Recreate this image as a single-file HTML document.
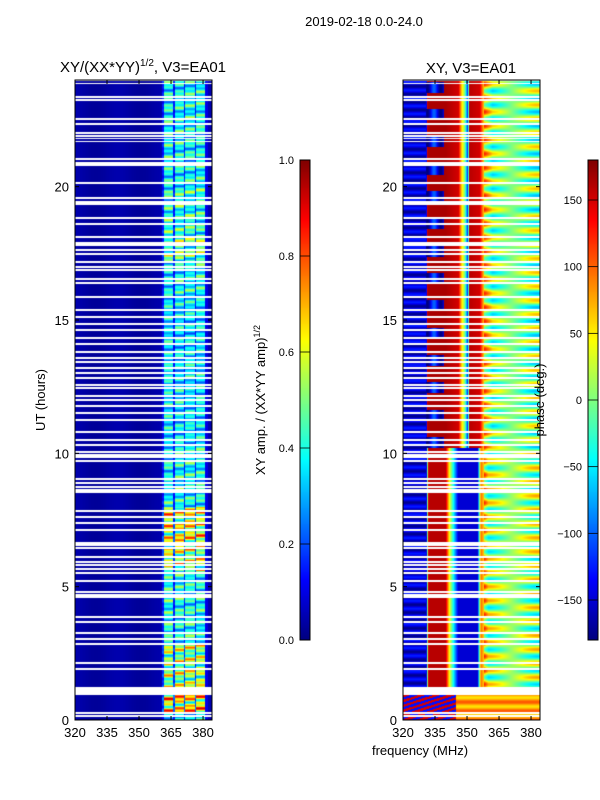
<!DOCTYPE html>
<html><head><meta charset="utf-8">
<style>
body{margin:0;background:#fff;width:600px;height:800px;overflow:hidden;font-family:"Liberation Sans","DejaVu Sans",sans-serif;}
#root{position:relative;width:600px;height:800px;}
svg text{font-family:"Liberation Sans","DejaVu Sans",sans-serif;}
canvas{position:absolute;}
</style></head>
<body>
<div id="root">
<canvas id="cL" width="137" height="640" style="left:75px;top:80px"></canvas>
<canvas id="cR" width="137" height="640" style="left:403px;top:80px"></canvas>
<canvas id="cb1" width="10" height="480" style="left:300px;top:160px"></canvas>
<canvas id="cb2" width="10" height="480" style="left:588px;top:160px"></canvas>
<svg id="ov" width="600" height="800" style="position:absolute;left:0;top:0"></svg>
</div>
<script>
// ---- data ----
const gapUT=[23.88,23.36,23.25,22.54,22.35,22.01,21.9,21.79,21.68,21.04,20.85,20.14,19.57,19.39,18.82,18.6,18.11,17.85,17.62,17.51,17.44,17.17,16.99,16.87,16.54,16.39,15.86,15.37,15.11,14.85,14.62,14.32,14.1,13.8,13.57,13.42,13.2,13.01,12.82,12.56,12.45,12.15,12.0,11.77,11.51,11.25,10.8,10.5,10.31,10.05,9.9,9.71,9.04,8.89,8.74,8.59,7.84,7.61,7.39,7.12,6.6,6.45,6.11,5.92,5.81,5.66,5.51,5.21,4.8,4.69,4.61,3.86,3.67,3.26,3.04,2.85,2.14,1.91,1.09,0.26,0.15];
const gapWidth=[0.05,0.05,0.05,0.05,0.05,0.05,0.04,0.04,0.04,0.05,0.16,0.05,0.05,0.16,0.05,0.05,0.05,0.16,0.05,0.04,0.04,0.05,0.05,0.05,0.05,0.05,0.05,0.05,0.08,0.05,0.05,0.05,0.05,0.05,0.05,0.05,0.05,0.05,0.05,0.05,0.05,0.05,0.05,0.05,0.05,0.05,0.05,0.05,0.05,0.05,0.14,0.05,0.05,0.05,0.05,0.15,0.05,0.05,0.05,0.05,0.18,0.05,0.05,0.05,0.05,0.05,0.05,0.08,0.05,0.05,0.05,0.05,0.05,0.05,0.05,0.05,0.05,0.05,0.27,0.05,0.05];
const ampBlockStart=[0,0.3,1.15,2.85,4.6,5.6,6.65,8.0,10.3,16.0,17.2,18.2,20.0];
const ampBlockLevel=[0.5,0.88,0.72,0.52,0.5,0.75,0.82,0.5,0.45,0.5,0.65,0.55,0.5];
const phaseUpFreq=[320,331,331.5,340,346,347.5,349,350.5,351,356,358,362,384];
const phaseUpVal=[-150,-150,165,165,150,60,0,-140,160,150,60,0,0];
const phaseLoFreq=[320,331,332,340,342,344,346,355,356.5,358,360,384];
const phaseLoVal=[-150,-150,160,160,30,-60,-150,-150,100,60,10,10];
const yTicks=[0,5,10,15,20];
const xTicks=[320,335,350,365,380];
const cb1Ticks=[0.0,0.2,0.4,0.6,0.8,1.0];
const cb2Ticks=[-150,-100,-50,0,50,100,150];
// ---- scales ----
const fMin=320,fMax=384.2,tMin=0,tMax=24,H=640,W=137;
const xs=f=>(f-fMin)/(fMax-fMin)*W;
const ys=t=>H-(t-tMin)/(tMax-tMin)*H;
const fx=px=>fMin+(px+0.5)/W*(fMax-fMin);
const ty=py=>tMax-(py+0.5)/H*(tMax-tMin);
function cl(v){return Math.max(0,Math.min(1,v));}
function jet(v){v=cl(v);return[cl(1.5-Math.abs(4*v-3))*255,cl(1.5-Math.abs(4*v-2))*255,cl(1.5-Math.abs(4*v-1))*255];}
function interp(xa,ya,x){for(let i=0;i<xa.length-1;i++){if(x<=xa[i+1]){const t=(x-xa[i])/(xa[i+1]-xa[i]);return ya[i]+t*(ya[i+1]-ya[i]);}}return ya[ya.length-1];}
function inGap(t){for(let i=0;i<gapUT.length;i++){if(Math.abs(t-gapUT[i])<=gapWidth[i]/2)return true;}return t>23.97;}
function ampLevel(t){let l=ampBlockLevel[0];for(let i=0;i<ampBlockStart.length;i++)if(t>=ampBlockStart[i])l=ampBlockLevel[i];return l;}
// ---- left panel ----
(function(){const c=document.getElementById('cL').getContext('2d');const im=c.createImageData(W,H);
for(let py=0;py<H;py++){const t=ty(py);const g=inGap(t);const lvl=ampLevel(t);
 for(let px=0;px<W;px++){const f=fx(px);let rgb;
  if(g){rgb=[255,255,255];}
  else{let v=0.035+0.01*Math.sin(f*0.3);
   if(f>=361&&f<=381){const sub=(f-361)%5;const si=Math.floor((f-361)/5);let fac=(sub<0.7)?0.25:1;
     const mod=0.65+0.35*Math.sin(py*0.8+si*1.7)*Math.cos(py*0.29+si);
     v=lvl*fac*mod+0.06;}
   else if(f>381&&f<382.5)v=0.1;
   rgb=jet(v);}
  const k=(py*W+px)*4;im.data[k]=rgb[0];im.data[k+1]=rgb[1];im.data[k+2]=rgb[2];im.data[k+3]=255;}}
c.putImageData(im,0,0);})();
// ---- right panel ----
(function(){const c=document.getElementById('cR').getContext('2d');const im=c.createImageData(W,H);
for(let py=0;py<H;py++){const t=ty(py);const g=inGap(t);
 for(let px=0;px<W;px++){const f=fx(px);let rgb;
  if(g){rgb=[255,255,255];}
  else{let p;
   if(t<1.1){p=f<345?(Math.sin(py*1.3+f*0.9)>0?150:-130):80+25*Math.sin(py*0.7);}
   else if(t<10.2)p=interp(phaseLoFreq,phaseLoVal,f);
   else{p=interp(phaseUpFreq,phaseUpVal,f);
     if(f>331&&f<339&&Math.sin(py*0.23)>0.3)p=-140+40*Math.sin(f);}
   if(f>358&&t>=1.1)p+=70*Math.sin(py*0.45)*Math.cos((f-358)*0.12);
   if(f<331&&t>=1.1)p+=25*Math.sin(py*0.8);
   let v=(p+180)/360;rgb=jet(v);}
  const k=(py*W+px)*4;im.data[k]=rgb[0];im.data[k+1]=rgb[1];im.data[k+2]=rgb[2];im.data[k+3]=255;}}
c.putImageData(im,0,0);})();
// ---- colorbars ----
['cb1','cb2'].forEach(id=>{const c=document.getElementById(id).getContext('2d');for(let y=0;y<480;y++){const r=jet(1-(y+0.5)/480);c.fillStyle=`rgb(${r[0]|0},${r[1]|0},${r[2]|0})`;c.fillRect(0,y,10,1);}});
// ---- axes overlay ----
const NS='http://www.w3.org/2000/svg';const ov=document.getElementById('ov');
function el(tag,attrs,txt){const e=document.createElementNS(NS,tag);for(const k in attrs)e.setAttribute(k,attrs[k]);if(txt!==undefined)e.textContent=txt;ov.appendChild(e);return e;}
function axes(x0,prefix){
 let r=el('rect',{x:x0,y:80,width:W,height:H,fill:'none',stroke:'#000','stroke-width':1});
 
 
 yTicks.forEach(v=>{const y=80+ys(v);
  el('line',{x1:x0,x2:x0+4,y1:y,y2:y,stroke:'#000'});el('line',{x1:x0+W-4,x2:x0+W,y1:y,y2:y,stroke:'#000'});
  let t=el('text',{x:x0-6,y:y+5,'text-anchor':'end','font-size':13},String(v));
  
  });
 xTicks.forEach(v=>{const x=x0+xs(v);
  el('line',{x1:x,x2:x,y1:80+H,y2:80+H-4,stroke:'#000'});el('line',{x1:x,x2:x,y1:80,y2:84,stroke:'#000'});
  let t=el('text',{x:x,y:737,'text-anchor':'middle','font-size':13},String(v));
  
  });
}
axes(75,'left');axes(403,'right');
function cbar(x0,ticks,lo,hi,prefix,fmt){
 let r=el('rect',{x:x0,y:160,width:10,height:480,fill:'none',stroke:'#000'});
 
 
 ticks.forEach(v=>{const y=640-(v-lo)/(hi-lo)*480;
  el('line',{x1:x0,x2:x0+10,y1:y,y2:y,stroke:'#000','stroke-width':0.8});
  let t=el('text',{x:x0-6,y:y+4,'text-anchor':'end','font-size':11},fmt(v));
  
  });
}
cbar(300,cb1Ticks,0,1,'amp',v=>v.toFixed(1));
cbar(588,cb2Ticks,-180,180,'phase',v=>v<0?'\u2212'+Math.abs(v):String(v));
</script>
<svg width="600" height="800" style="position:absolute;left:0;top:0;pointer-events:none">
<text x="364" y="26" text-anchor="middle" font-size="13">2019-02-18 0.0-24.0</text>
<text x="143" y="72" text-anchor="middle" font-size="15">XY/(XX*YY)<tspan dy="-6" font-size="10">1/2</tspan><tspan dy="6">, V3=EA01</tspan></text>
<text x="471" y="73" text-anchor="middle" font-size="15">XY, V3=EA01</text>
<text transform="translate(45,400) rotate(-90)" text-anchor="middle" font-size="13">UT (hours)</text>
<text transform="translate(265,400) rotate(-90)" text-anchor="middle" font-size="13">XY amp. / (XX*YY amp)<tspan dy="-5" font-size="9">1/2</tspan></text>
<text transform="translate(544,400) rotate(-90)" text-anchor="middle" font-size="13">phase (deg.)</text>
<text x="420" y="755" text-anchor="middle" font-size="13">frequency (MHz)</text>
</svg>
</body></html>
